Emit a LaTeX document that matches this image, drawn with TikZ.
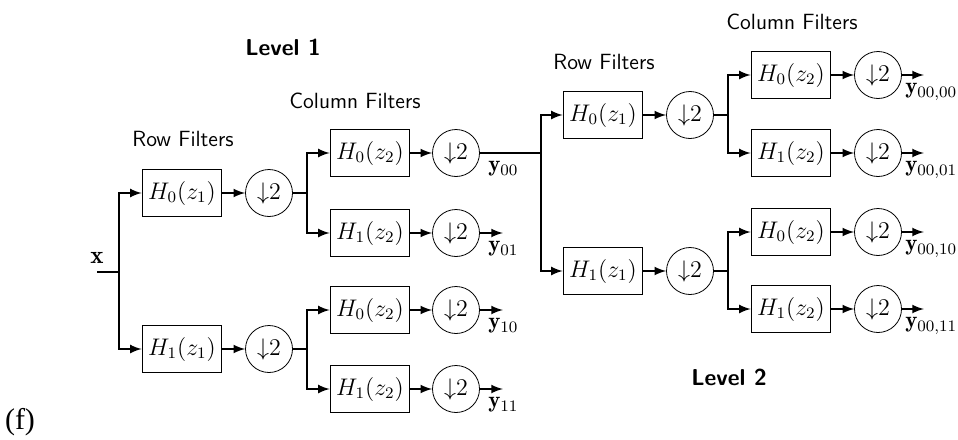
\documentclass[tikz,border=0pt]{standalone}
\usepackage{amsmath}
\usepackage{amssymb}
\usepackage{fontspec}
\newfontfamily\capfont{Liberation Serif}
\usepackage{tikz}
\usetikzlibrary{arrows}

\tikzset{
	filt/.style={draw,line width=0.8pt,minimum width=39.5pt,minimum height=23.5pt,inner sep=0pt,font=\fontsize{12}{14}\selectfont},
	dec/.style={circle,draw,line width=0.4pt,minimum size=23.5pt,inner sep=0pt,font=\fontsize{12}{14}\selectfont},
	wire/.style={line width=1pt},
	sig/.style={line width=1pt,-{latex[scale=1.3]}},
	outlab/.style={anchor=north west,inner sep=0pt,font=\fontsize{11.5}{14}\selectfont},
	hdr/.style={font=\fontsize{11}{13}\selectfont\sffamily},
	lev/.style={font=\fontsize{11.5}{13}\selectfont\sffamily\bfseries}
}

\begin{document}
\begin{tikzpicture}[x=0.5pt,y=-0.5pt,font=\fontsize{11}{13}\selectfont]
			\useasboundingbox (0,0) rectangle (958,439);
			% level 1
			\coordinate (in) at (97,272);
			\coordinate (s0) at (119,272);
			\node[font=\fontsize{12.5}{15}\selectfont] (xlab) at (97,258) {$\mathbf{x}$};
			\foreach \i/\yy in {0/193,1/349} {
				\node[filt] (R\i) at (182,\yy) {$H_\i(z_1)$};
				\node[dec] (D\i) at (269,\yy) {${\downarrow}2$};
				\coordinate (b\i) at (307,\yy);
			}
			\foreach \k/\j/\yy in {00/0/153,01/1/233,10/0/310,11/1/389} {
				\node[filt] (C\k) at (370,\yy) {$H_\j(z_2)$};
				\node[dec] (E\k) at (456,\yy) {${\downarrow}2$};
				\node[outlab] (y\k) at ([xshift=4pt,yshift=-4pt]E\k.east) {$\mathbf{y}_{\k}$};
				\draw[sig] (C\k) -- (E\k);
			}
			\draw[wire] (in) -- (s0);
			\foreach \i in {0,1} {
				\draw[sig] (s0) |- (R\i.west);
				\draw[sig] (R\i) -- (D\i);
				\draw[wire] (D\i) -- (b\i);
				\draw[sig] (b\i) |- (C\i0.west);
				\draw[sig] (b\i) |- (C\i1.west);
			}
			\foreach \k in {01,10,11} {
				\coordinate (o\k) at ([xshift=11.5pt]E\k.east);
				\draw[sig] (E\k) -- (o\k);
			}
			% level 2
			\coordinate (s3) at (541,153);
			\draw[wire] (E00) -- (s3);
			\foreach \i/\yy in {0/115,1/271} {
				\node[filt] (RR\i) at (603,\yy) {$H_\i(z_1)$};
				\node[dec] (DD\i) at (690,\yy) {${\downarrow}2$};
				\coordinate (bb\i) at (728,\yy);
				\draw[sig] (s3) |- (RR\i.west);
				\draw[sig] (RR\i) -- (DD\i);
				\draw[wire] (DD\i) -- (bb\i);
			}
			\foreach \k/\j/\yy in {00/0/75,01/1/153,10/0/232,11/1/309} {
				\node[filt] (CC\k) at (791,\yy) {$H_\j(z_2)$};
				\node[dec] (EE\k) at (878,\yy) {${\downarrow}2$};
				\coordinate (oo\k) at ([xshift=11pt]EE\k.east);
				\node[outlab] (yy\k) at ([xshift=1.5pt,yshift=-4pt]EE\k.east) {$\mathbf{y}_{00,\k}$};
				\draw[sig] (CC\k) -- (EE\k);
				\draw[sig] (EE\k) -- (oo\k);
			}
			\foreach \i in {0,1} {
				\draw[sig] (bb\i) |- (CC\i0.west);
				\draw[sig] (bb\i) |- (CC\i1.west);
			}
			% titles
			\node[lev] (lev1) at (283,47) {Level 1};
			\node[lev] (lev2) at (729,377) {Level 2};
			\node[hdr] (row1) at (183,139) {Row Filters};
			\node[hdr] (col1) at (355,101) {Column Filters};
			\node[hdr] (row2) at (604,62) {Row Filters};
			\node[hdr] (col2) at (792,22) {Column Filters};
			\node[font=\fontsize{15}{18}\capfont] (tag) at (20,422) {(f)};
		\end{tikzpicture}
\end{document}
